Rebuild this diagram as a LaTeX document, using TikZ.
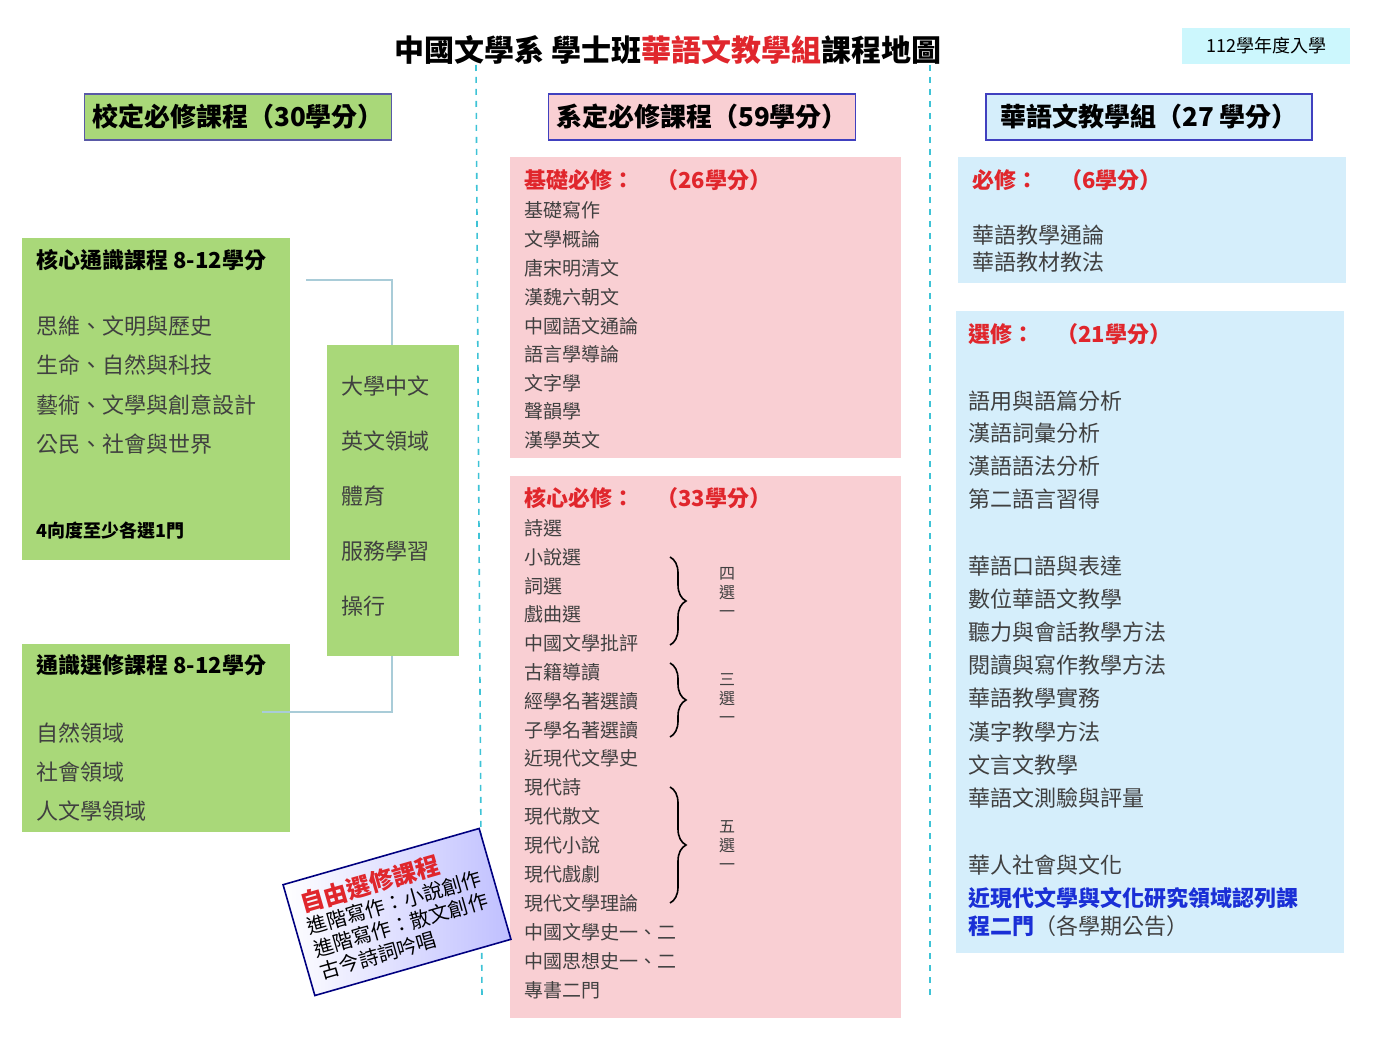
\documentclass[tikz,border=0pt]{standalone}
\usepackage{fontspec}
\setmainfont{Noto Sans CJK TC}
\usepackage{xcolor}
\usetikzlibrary{shapes,calc,positioning,decorations.pathreplacing}
\definecolor{grnfill}{HTML}{A9D879}
\definecolor{pinkfill}{HTML}{F9CFD3}
\definecolor{bluefill}{HTML}{D5EEFB}
\definecolor{cyanline}{HTML}{3EC3D6}
\definecolor{conline}{HTML}{A9CCD8}
\definecolor{hdrred}{HTML}{E0262C}
\definecolor{itemgray}{HTML}{404040}
\definecolor{linkblue}{HTML}{1A2FD6}
\tikzstyle{hdrbox}=[rectangle, draw=#1, semithick, minimum height=23pt, inner sep=4pt, font=\fontsize{13}{15}\selectfont\bfseries]
\tikzstyle{item}=[anchor=west, inner sep=0pt, text=itemgray, font=\fontsize{9.5}{11}\selectfont]
\tikzstyle{gitem}=[anchor=west, inner sep=0pt, text=itemgray, font=\fontsize{11}{13}\selectfont]
\tikzstyle{bitem}=[anchor=west, inner sep=0pt, text=itemgray, font=\fontsize{11}{13}\selectfont]
\tikzstyle{redhd}=[anchor=west, inner sep=0pt, text=hdrred, font=\fontsize{11}{13}\selectfont\bfseries]
\tikzstyle{blkhd}=[anchor=west, inner sep=0pt, font=\fontsize{11}{13}\selectfont\bfseries]
\tikzstyle{pick}=[anchor=north, inner sep=0pt, align=center, text=itemgray, font=\fontsize{8}{9.5}\selectfont]
\begin{document}
\begin{tikzpicture}[x=0.5pt,y=-0.5pt]
			\useasboundingbox (0,0) rectangle (1384,1037);
			% title
			\node (title) at (668,50) {\fontsize{15}{18}\selectfont\bfseries 中國文學系 學士班\textcolor{hdrred}{華語文教學組}課程地圖};
			\node[fill=bluefill!80!cyan!60, minimum width=84pt, minimum height=18pt, font=\fontsize{9}{11}\selectfont] (year) at (1266,46) {112學年度入學};

			\draw[cyanline, thick, dashed] (476,65) -- (482,1000);
			\draw[cyanline, thick, dashed] (930,65) -- (930,1000);

			% headers
			\node[hdrbox=blue!30!gray, fill=grnfill, minimum width=151pt] (hdrschool) at (238,117) {校定必修課程（30學分）};
			\node[hdrbox=blue!50!gray, fill=pinkfill, minimum width=151pt] (hdrdept) at (702,117) {系定必修課程（59學分）};
			\node[hdrbox=blue!50!gray, fill=bluefill, minimum width=163pt] (hdrgroup) at (1149,117) {華語文教學組（27 學分）};

			% department boxes
			\fill[pinkfill] (510,157) rectangle (901,458);
			\fill[pinkfill] (510,476) rectangle (901,1018);
			\node[redhd] (basic) at (524,180) {基礎必修：\quad（26學分）};
			\foreach \y/\t in {210/基礎寫作,239/文學概論,268/唐宋明清文,297/漢魏六朝文,326/中國語文通論,354/語言學導論,383/文字學,411/聲韻學,440/漢學英文}
				\node[item] at (524,\y) {\t};
			\node[redhd] (core) at (524,498) {核心必修：\quad（33學分）};
			\foreach \y/\t in {528/詩選,557/小說選,586/詞選,614/戲曲選,643/中國文學批評,672/古籍導讀,701/經學名著選讀,730/子學名著選讀,758/近現代文學史,787/現代詩,816/現代散文,845/現代小說,874/現代戲劇,903/現代文學理論,932/中國文學史一、二,961/中國思想史一、二,990/專書二門}
				\node[item] at (524,\y) {\t};
			\draw[decorate,decoration={brace,amplitude=8pt},thick] (670,557) -- (670,645);
			\node[pick] (pickA) at (727,567) {四\\選\\一};
			\draw[decorate,decoration={brace,amplitude=8pt},thick] (670,663) -- (670,737);
			\node[pick] (pickB) at (727,673) {三\\選\\一};
			\draw[decorate,decoration={brace,amplitude=8pt},thick] (670,787) -- (670,903);
			\node[pick] (pickC) at (727,820) {五\\選\\一};

			% group boxes
			\fill[bluefill] (958,157) rectangle (1346,283);
			\fill[bluefill] (956,311) rectangle (1344,953);
			\node[redhd] (req) at (972,180) {必修：\quad（6學分）};
			\node[bitem] at (972,235) {華語教學通論};
			\node[bitem] at (972,262) {華語教材教法};
			\node[redhd] (elec) at (968,334) {選修：\quad（21學分）};
			\foreach \y/\t in {401/語用與語篇分析,433/漢語詞彙分析,466/漢語語法分析,499/第二語言習得,566/華語口語與表達,599/數位華語文教學,632/聽力與會話教學方法,665/閱讀與寫作教學方法,698/華語教學實務,732/漢字教學方法,765/文言文教學,798/華語文測驗與評量,865/華人社會與文化}
				\node[bitem] at (968,\y) {\t};
			\node[blkhd, text=linkblue] (link1) at (968,898) {近現代文學與文化研究領域認列課};
			\node[bitem] (link2) at (968,926) {\textcolor{linkblue}{\bfseries 程二門}（各學期公告）};

			% school boxes
			\fill[grnfill] (22,238) rectangle (290,560);
			\fill[grnfill] (327,345) rectangle (459,656);
			\fill[grnfill] (22,644) rectangle (290,832);
			\coordinate (coreR) at (306,280);
			\coordinate (midT) at (392,345);
			\coordinate (midB) at (392,656);
			\coordinate (genR) at (262,712);
			\draw[conline, thick] (coreR) -| (midT);
			\draw[conline, thick] (midB) |- (genR);
			\node[blkhd] (corehd) at (36,260) {核心通識課程 8-12學分};
			\foreach \y/\t in {326/思維、文明與歷史,365/生命、自然與科技,405/藝術、文學與創意設計,444/公民、社會與世界}
				\node[gitem] at (36,\y) {\t};
			\node[blkhd, font=\fontsize{9}{11}\selectfont\bfseries] (corenote) at (36,531) {4向度至少各選1門};
			\foreach \y/\t in {386/大學中文,441/英文領域,496/體育,551/服務學習,606/操行}
				\node[gitem] at (341,\y) {\t};
			\node[blkhd] (genhd) at (36,665) {通識選修課程 8-12學分};
			\foreach \y/\t in {733/自然領域,772/社會領域,811/人文學領域}
				\node[gitem] at (36,\y) {\t};

			% free electives
			\node[rotate=16, draw=blue!50!black, thick, left color=white, right color=blue!25, align=left, inner sep=6pt, font=\fontsize{10}{11.5}\selectfont] (free) at (397,912)
				{\textcolor{hdrred}{\fontsize{12}{13}\selectfont\bfseries 自由選修課程}\\進階寫作：小說創作\\進階寫作：散文創作\\古今詩詞吟唱};
		\end{tikzpicture}
\end{document}
